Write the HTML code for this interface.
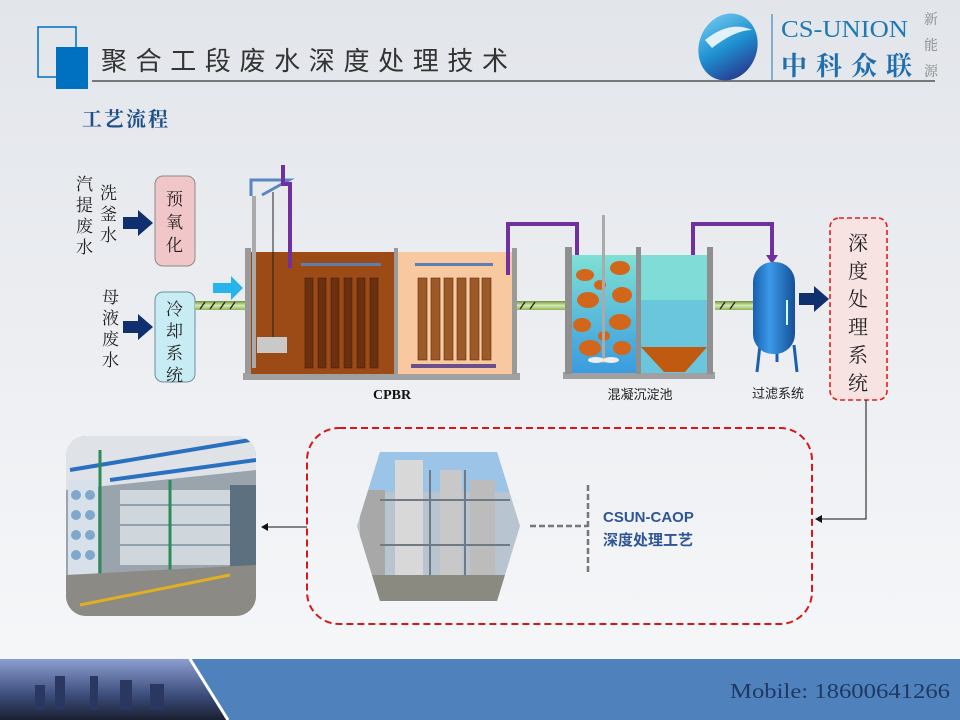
<!DOCTYPE html>
<html><head><meta charset="utf-8"><style>
html,body{margin:0;padding:0;width:960px;height:720px;overflow:hidden}
text{font-family:"Liberation Serif","Noto Serif CJK SC",serif}
.s{font-family:"Liberation Sans","Noto Sans CJK SC",sans-serif}
</style></head><body>
<svg width="960" height="720" viewBox="0 0 960 720" xmlns="http://www.w3.org/2000/svg">
<defs>
<linearGradient id="bg" x1="0" y1="0" x2="0" y2="1"><stop offset="0" stop-color="#e2e5ea"/><stop offset="1" stop-color="#f7f8fa"/></linearGradient>
<linearGradient id="pipe" x1="0" y1="0" x2="0" y2="1"><stop offset="0" stop-color="#6f8f3a"/><stop offset="0.5" stop-color="#d6ecb0"/><stop offset="1" stop-color="#8fb35a"/></linearGradient>
<linearGradient id="water" x1="0" y1="0" x2="0" y2="1"><stop offset="0" stop-color="#7ee0d4"/><stop offset="1" stop-color="#3a9be0"/></linearGradient>
<linearGradient id="vessel" x1="0" y1="0" x2="1" y2="0"><stop offset="0" stop-color="#1a5fb0"/><stop offset="0.4" stop-color="#3a9ae8"/><stop offset="1" stop-color="#164f98"/></linearGradient>
<linearGradient id="city" x1="0" y1="0" x2="0" y2="1"><stop offset="0" stop-color="#8c9ed0"/><stop offset="0.6" stop-color="#3b4c7a"/><stop offset="1" stop-color="#1a2030"/></linearGradient>
<linearGradient id="logo" x1="0" y1="0" x2="1" y2="1"><stop offset="0" stop-color="#7fd3f5"/><stop offset="0.5" stop-color="#1e8fd0"/><stop offset="1" stop-color="#2a1f7a"/></linearGradient>
<clipPath id="hex"><polygon points="380,452 497,452 520,526 497,601 380,601 357,526"/></clipPath>
<clipPath id="ph"><rect x="66" y="436" width="190" height="180" rx="20"/></clipPath>
</defs>
<rect width="960" height="720" fill="url(#bg)"/>
<!-- header -->
<rect x="38" y="27" width="38" height="50" fill="none" stroke="#0070c0" stroke-width="1.5"/>
<rect x="56" y="47" width="32" height="42" fill="#0070c0"/>
<text x="101" y="70" font-size="26" fill="#333" textLength="407" lengthAdjust="spacing" class="s">聚合工段废水深度处理技术</text>
<line x1="92" y1="81" x2="935" y2="81" stroke="#777" stroke-width="2"/>
<ellipse cx="728" cy="47" rx="29" ry="34" fill="url(#logo)" transform="rotate(20 728 47)"/>
<path d="M705 40 Q730 20 752 30 Q735 30 712 48 Z" fill="#fff" opacity="0.85"/>
<line x1="772" y1="14" x2="772" y2="80" stroke="#1f7ab3" stroke-width="1"/>
<text x="781" y="37" font-size="24" fill="#1f7ab3" textLength="127" lengthAdjust="spacingAndGlyphs">CS-UNION</text>
<text x="781" y="75" font-size="26" font-weight="bold" fill="#1f6fb0" textLength="131" lengthAdjust="spacing">中科众联</text>
<text x="924" y="24" font-size="14" fill="#888">新</text>
<text x="924" y="50" font-size="14" fill="#888">能</text>
<text x="924" y="76" font-size="14" fill="#888">源</text>
<text x="82" y="126" font-size="20" font-weight="bold" fill="#1f4e8c" letter-spacing="2">工艺流程</text>
<!-- left labels -->
<g font-size="17" fill="#222" class="s">
<text x="76" y="190">汽</text><text x="76" y="211">提</text><text x="76" y="232">废</text><text x="76" y="253">水</text>
<text x="100" y="199">洗</text><text x="100" y="220">釜</text><text x="100" y="241">水</text>
<text x="102" y="303">母</text><text x="102" y="324">液</text><text x="102" y="345">废</text><text x="102" y="366">水</text>
</g>
<g fill="#0f2f6e"><path d="M123 217 H138 V210 L153 223 L138 236 V229 H123 Z"/><path d="M123 321 H138 V314 L153 327 L138 340 V333 H123 Z"/></g>
<rect x="155" y="176" width="40" height="90" rx="8" fill="#f1c6c8" stroke="#8a8a8a"/>
<rect x="155" y="292" width="40" height="90" rx="8" fill="#c8ecf3" stroke="#6a8fa0"/>
<g font-size="17" fill="#222" class="s">
<text x="166" y="205">预</text><text x="166" y="228">氧</text><text x="166" y="251">化</text>
<text x="166" y="315">冷</text><text x="166" y="337">却</text><text x="166" y="359">系</text><text x="166" y="381">统</text>
</g>
<!-- pipes -->
<rect x="195" y="301" width="55" height="9" fill="url(#pipe)"/>
<rect x="515" y="301" width="52" height="9" fill="url(#pipe)"/>
<rect x="715" y="301" width="40" height="9" fill="url(#pipe)"/>
<g stroke="#222" stroke-width="1.3"><path d="M200 309 l5 -7 M210 309 l5 -7 M220 309 l5 -7 M230 309 l5 -7 M520 309 l5 -7 M530 309 l5 -7 M720 309 l5 -7 M730 309 l5 -7"/></g>
<path d="M213 283 H231 V276 L243 288 L231 300 V293 H213 Z" fill="#27b4ec"/>
<!-- CPBR -->
<rect x="243" y="373" width="277" height="7" fill="#a0a0a0"/>
<rect x="251" y="252" width="143" height="122" fill="#9c4a16"/>
<rect x="398" y="252" width="114" height="122" fill="#f8c9a0"/>
<rect x="245" y="248" width="6" height="126" fill="#9a9a9a"/>
<rect x="394" y="248" width="4" height="126" fill="#9a9a9a"/>
<rect x="512" y="248" width="5" height="126" fill="#9a9a9a"/>
<path d="M251 196 V180 H289 L262 195" fill="none" stroke="#5a86c0" stroke-width="3"/>
<line x1="254" y1="196" x2="254" y2="368" stroke="#aaa" stroke-width="4"/>
<line x1="273" y1="192" x2="273" y2="340" stroke="#222" stroke-width="1"/>
<rect x="257" y="337" width="30" height="16" fill="#c9c9c9"/>
<rect x="301" y="263" width="80" height="3" fill="#5a7fb0"/>
<g fill="#6b3010" stroke="#3a1808" stroke-width="0.5">
<rect x="305" y="278" width="8" height="90"/><rect x="318" y="278" width="8" height="90"/><rect x="331" y="278" width="8" height="90"/><rect x="344" y="278" width="8" height="90"/><rect x="357" y="278" width="8" height="90"/><rect x="370" y="278" width="8" height="90"/>
</g>
<rect x="415" y="263" width="78" height="3" fill="#5a7fb0"/>
<g fill="#9c5a28" stroke="#5a2a08" stroke-width="0.6">
<rect x="418" y="278" width="9" height="82"/><rect x="431" y="278" width="9" height="82"/><rect x="444" y="278" width="9" height="82"/><rect x="457" y="278" width="9" height="82"/><rect x="470" y="278" width="9" height="82"/><rect x="482" y="278" width="9" height="82"/>
</g>
<rect x="411" y="364" width="85" height="4" fill="#6a4f8a"/>
<text x="373" y="399" font-size="14" font-weight="bold" fill="#111">CPBR</text>
<!-- purple pipes -->
<g fill="none" stroke="#7030a0" stroke-width="4">
<path d="M283 165 V184 H290 V268"/>
<path d="M508 275 V224 H577 V268"/>
<path d="M693 275 V224 H772 V255"/>
</g>
<g fill="#7030a0"><path d="M571 266 L583 266 L577 275Z"/><path d="M766 255 L778 255 L772 264Z"/></g>
<!-- coagulation -->
<rect x="563" y="372" width="152" height="7" fill="#a0a0a0"/>
<rect x="572" y="255" width="64" height="118" fill="url(#water)"/>
<rect x="641" y="255" width="66" height="118" fill="#7fdcd6"/>
<rect x="641" y="300" width="66" height="73" fill="#5ab8e0" opacity="0.6"/>
<path d="M641 347 H707 L685 372 H664 Z" fill="#c05a10"/>
<g fill="#d2661a">
<ellipse cx="585" cy="275" rx="9" ry="6"/><ellipse cx="620" cy="268" rx="10" ry="7"/><ellipse cx="588" cy="300" rx="11" ry="8"/><ellipse cx="622" cy="295" rx="10" ry="8"/><ellipse cx="582" cy="325" rx="9" ry="7"/><ellipse cx="620" cy="322" rx="11" ry="8"/><ellipse cx="590" cy="348" rx="11" ry="8"/><ellipse cx="622" cy="348" rx="9" ry="7"/><ellipse cx="600" cy="285" rx="6" ry="5"/><ellipse cx="604" cy="336" rx="6" ry="5"/>
</g>
<rect x="565" y="247" width="7" height="127" fill="#8f8f8f"/>
<rect x="636" y="247" width="5" height="127" fill="#8f8f8f"/>
<rect x="707" y="247" width="6" height="127" fill="#8f8f8f"/>
<rect x="602" y="215" width="3" height="148" fill="#aaa"/>
<ellipse cx="596" cy="360" rx="8" ry="3" fill="#eee"/><ellipse cx="611" cy="360" rx="8" ry="3" fill="#eee"/>
<text x="640" y="399" font-size="13" fill="#222" text-anchor="middle" class="s">混凝沉淀池</text>
<!-- filter -->
<g stroke="#1a5fb0" stroke-width="3"><line x1="760" y1="345" x2="757" y2="372"/><line x1="794" y1="345" x2="797" y2="372"/><line x1="777" y1="350" x2="777" y2="362"/></g>
<rect x="753" y="262" width="42" height="92" rx="20" fill="url(#vessel)"/>
<rect x="786" y="300" width="2" height="25" fill="#cfe" />
<text x="778" y="398" font-size="13" fill="#222" text-anchor="middle" class="s">过滤系统</text>
<path d="M799 293 H814 V286 L829 299 L814 312 V305 H799 Z" fill="#0f2f6e"/>
<rect x="830" y="218" width="57" height="182" rx="9" fill="#f8e3e3" stroke="#e02020" stroke-width="1.6" stroke-dasharray="5,3"/>
<g font-size="20" fill="#222" class="s">
<text x="848" y="250">深</text><text x="848" y="278">度</text><text x="848" y="306">处</text><text x="848" y="334">理</text><text x="848" y="362">系</text><text x="848" y="390">统</text>
</g>
<path d="M866 400 V519 H820" fill="none" stroke="#111" stroke-width="1"/>
<path d="M815 519 L822 515 V523Z" fill="#111"/>
<!-- bottom -->
<rect x="307" y="428" width="505" height="196" rx="32" fill="none" stroke="#d81818" stroke-width="2" stroke-dasharray="7,4"/>
<g clip-path="url(#hex)">
<rect x="355" y="452" width="165" height="149" fill="#b8c4cf"/>
<rect x="355" y="452" width="165" height="40" fill="#9cc4e6"/>
<rect x="395" y="460" width="28" height="140" fill="#d8d8d8"/>
<rect x="440" y="470" width="22" height="130" fill="#c8c8c8"/>
<rect x="470" y="480" width="25" height="120" fill="#bcbcbc"/>
<rect x="360" y="490" width="25" height="110" fill="#a8a8a8"/>
<g stroke="#707a84" stroke-width="2"><line x1="380" y1="500" x2="510" y2="500"/><line x1="380" y1="545" x2="510" y2="545"/><line x1="430" y1="470" x2="430" y2="600"/><line x1="465" y1="470" x2="465" y2="600"/></g>
<rect x="355" y="575" width="165" height="26" fill="#8a8a80"/>
</g>
<path d="M530 526 H588" stroke="#777" stroke-width="2.5" stroke-dasharray="6,3"/>
<path d="M588 485 V575" stroke="#777" stroke-width="2.5" stroke-dasharray="6,3"/>
<text x="603" y="522" font-size="15" font-weight="bold" fill="#2f5597" class="s">CSUN-CAOP</text>
<text x="603" y="545" font-size="15" font-weight="bold" fill="#2f5597" class="s">深度处理工艺</text>
<line x1="307" y1="527" x2="266" y2="527" stroke="#111" stroke-width="1"/>
<path d="M261 527 L268 523 V531Z" fill="#111"/>
<g clip-path="url(#ph)">
<rect x="66" y="436" width="190" height="180" fill="#9aa4ac"/>
<path d="M66 436 H256 V470 L66 490 Z" fill="#dfe3e8"/>
<path d="M70 470 L250 440 M110 480 L256 460" stroke="#2a70c0" stroke-width="4"/>
<rect x="68" y="480" width="30" height="110" fill="#d8e0ea"/>
<g fill="#7fa8cc"><circle cx="76" cy="495" r="5"/><circle cx="90" cy="495" r="5"/><circle cx="76" cy="515" r="5"/><circle cx="90" cy="515" r="5"/><circle cx="76" cy="535" r="5"/><circle cx="90" cy="535" r="5"/><circle cx="76" cy="555" r="5"/><circle cx="90" cy="555" r="5"/></g>
<rect x="120" y="490" width="110" height="75" fill="#cfd6dc"/>
<g stroke="#8fa0b0" stroke-width="2"><line x1="120" y1="505" x2="230" y2="505"/><line x1="120" y1="525" x2="230" y2="525"/><line x1="120" y1="545" x2="230" y2="545"/></g>
<rect x="230" y="485" width="26" height="85" fill="#5d7080"/>
<path d="M100 450 V600 M170 480 V580" stroke="#2e8a5a" stroke-width="3"/>
<path d="M66 575 L256 565 V616 H66Z" fill="#8c8a84"/>
<line x1="80" y1="605" x2="230" y2="575" stroke="#e0b020" stroke-width="3"/>
</g>
<!-- footer -->
<rect x="0" y="659" width="960" height="61" fill="#4f81bd"/>
<polygon points="0,659 190,659 228,720 0,720" fill="url(#city)"/>
<g fill="#2a3760"><rect x="35" y="685" width="10" height="25"/><rect x="55" y="676" width="10" height="34"/><rect x="90" y="676" width="8" height="34"/><rect x="120" y="680" width="12" height="30"/><rect x="150" y="684" width="14" height="26"/></g>
<line x1="190" y1="659" x2="228" y2="720" stroke="#fff" stroke-width="3"/>
<text x="730" y="698" font-size="21" fill="#1f3864" textLength="220" lengthAdjust="spacingAndGlyphs">Mobile:  18600641266</text>
</svg>
</body></html>
